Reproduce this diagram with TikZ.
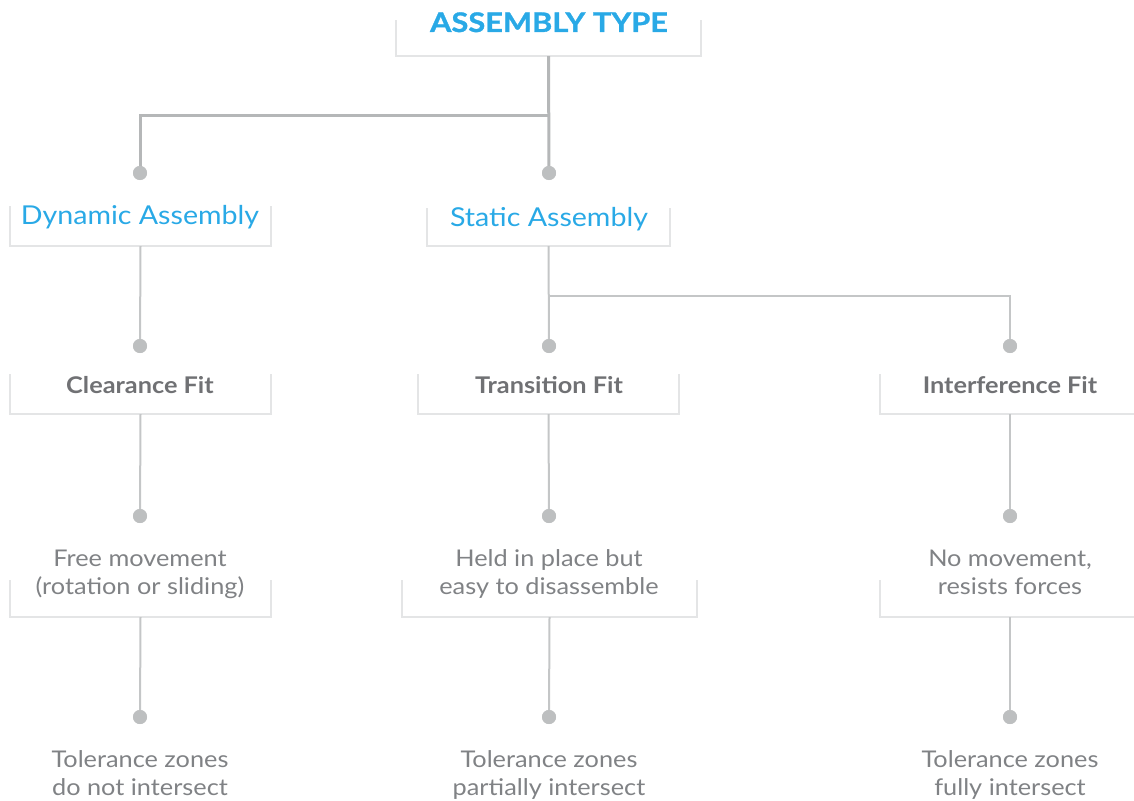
\documentclass[tikz,border=0pt]{standalone}
\usepackage{fontspec}
\setmainfont{Lato}[FakeStretch=1.1]
\newfontfamily\titlefont{Lato}[FakeStretch=1.14, BoldFeatures={FakeBold=1.2}]
\usepackage{tikz}

\definecolor{titleblue}{HTML}{29A9E6}
\definecolor{textgray}{HTML}{808285}
\definecolor{headgray}{HTML}{707174}
\definecolor{framegray}{HTML}{E4E5E6}
\definecolor{linkgray}{HTML}{C4C6C7}
\definecolor{linkdark}{HTML}{B5B7B8}
\definecolor{dotgray}{HTML}{BDBFC0}

\begin{document}
\begin{tikzpicture}[x=1pt,y=-1pt,
    frame/.style={minimum width=#1, minimum height=40, inner sep=0},
    bracket/.style={draw=framegray, line width=2},
    link/.style={draw=linkgray, line width=2},
    mainlink/.style={draw=linkdark, line width=3},
    dot/.style={circle, fill=dotgray, minimum size=14, inner sep=0},
    title/.style={text=titleblue, font=\fontsize{27}{32}\selectfont\titlefont\bfseries, anchor=base},
    branch/.style={text=titleblue, font=\fontsize{26}{32}\selectfont, anchor=base},
    fit/.style={text=headgray, font=\fontsize{23}{28}\selectfont\bfseries, anchor=base},
    note/.style={text=textgray, font=\fontsize{23}{28}\selectfont, align=center, text depth=0pt}]

        \useasboundingbox (0,0) rectangle (1134,800);

        % Frames under the labels
        \node[frame=305, minimum height=36] (f-type) at (548.5,38) {};
        \node[frame=261] (f-dyn) at (140.5,226) {};
        \node[frame=243, minimum height=38] (f-stat) at (548.5,227) {};
        \node[frame=261] (f-clear) at (140.5,394) {};
        \node[frame=261] (f-trans) at (548.5,394) {};
        \node[frame=260] (f-inter) at (1010,394) {};
        \node[frame=261, minimum height=37] (f-free) at (140.5,598.5) {};
        \node[frame=295, minimum height=37] (f-held) at (549.5,598.5) {};
        \node[frame=260, minimum height=37] (f-none) at (1010,598.5) {};

        \foreach \f in {type,dyn,stat,clear,trans,inter,free,held,none}
            \draw[bracket] (f-\f.north west) |- (f-\f.south) -| (f-\f.north east);

        % Labels
        \node[title] (type) at (549,32) {ASSEMBLY TYPE};
        \node[branch] (dyn) at (140,224) {Dynamic Assembly};
        \node[branch] (stat) at (549,226) {Static Assembly};
        \node[fit] (clear) at (140,393) {Clearance Fit};
        \node[fit] (trans) at (549,393) {Transition Fit};
        \node[fit] (inter) at (1010,393) {Interference Fit};
        \node[note] (free) at (140,572) {Free movement\\(rotation or sliding)};
        \node[note] (held) at (549,572) {Held in place but\\easy to disassemble};
        \node[note] (none) at (1010,572) {No movement,\\resists forces};
        \node[note] (z-free) at (140,773) {Tolerance zones\\do not intersect};
        \node[note] (z-held) at (549,773) {Tolerance zones\\partially intersect};
        \node[note] (z-none) at (1010,773) {Tolerance zones\\fully intersect};

        % Dots
        \node[dot] (d-dyn) at (140,173) {};
        \node[dot] (d-stat) at (549,173) {};
        \node[dot] (d-clear) at (140,346) {};
        \node[dot] (d-trans) at (549,346) {};
        \node[dot] (d-inter) at (1010,346) {};
        \node[dot] (d-free) at (140,516) {};
        \node[dot] (d-held) at (549,516) {};
        \node[dot] (d-none) at (1010,516) {};
        \node[dot] (d-z-free) at (140,717) {};
        \node[dot] (d-z-held) at (549,717) {};
        \node[dot] (d-z-none) at (1010,717) {};

        % Split points
        \coordinate (split-top) at (549,115);
        \coordinate (split-stat) at (549,296);

        % Connect assembly type to both branches
        \draw[mainlink] (f-type.south) -- (d-stat.center);
        \draw[mainlink] (split-top) -| (d-dyn.center);

        % Connect branches to fits
        \draw[link] (f-dyn.south) -- (d-clear.center);
        \draw[link] (f-stat.south) -- (d-trans.center);
        \draw[link] (split-stat) -| (d-inter.center);

        % Connect fits and notes further down
        \foreach \a/\b in {clear/free,trans/held,inter/none}
            \draw[link] (f-\a.south) -- (d-\b.center);
        \foreach \a/\b in {free/z-free,held/z-held,none/z-none}
            \draw[link] (f-\a.south) -- (d-\b.center);

        % Dots on top of the lines
        \foreach \d in {dyn,stat,clear,trans,inter,free,held,none,z-free,z-held,z-none}
            \fill[dotgray] (d-\d) circle (7);

    \end{tikzpicture}
\end{document}
